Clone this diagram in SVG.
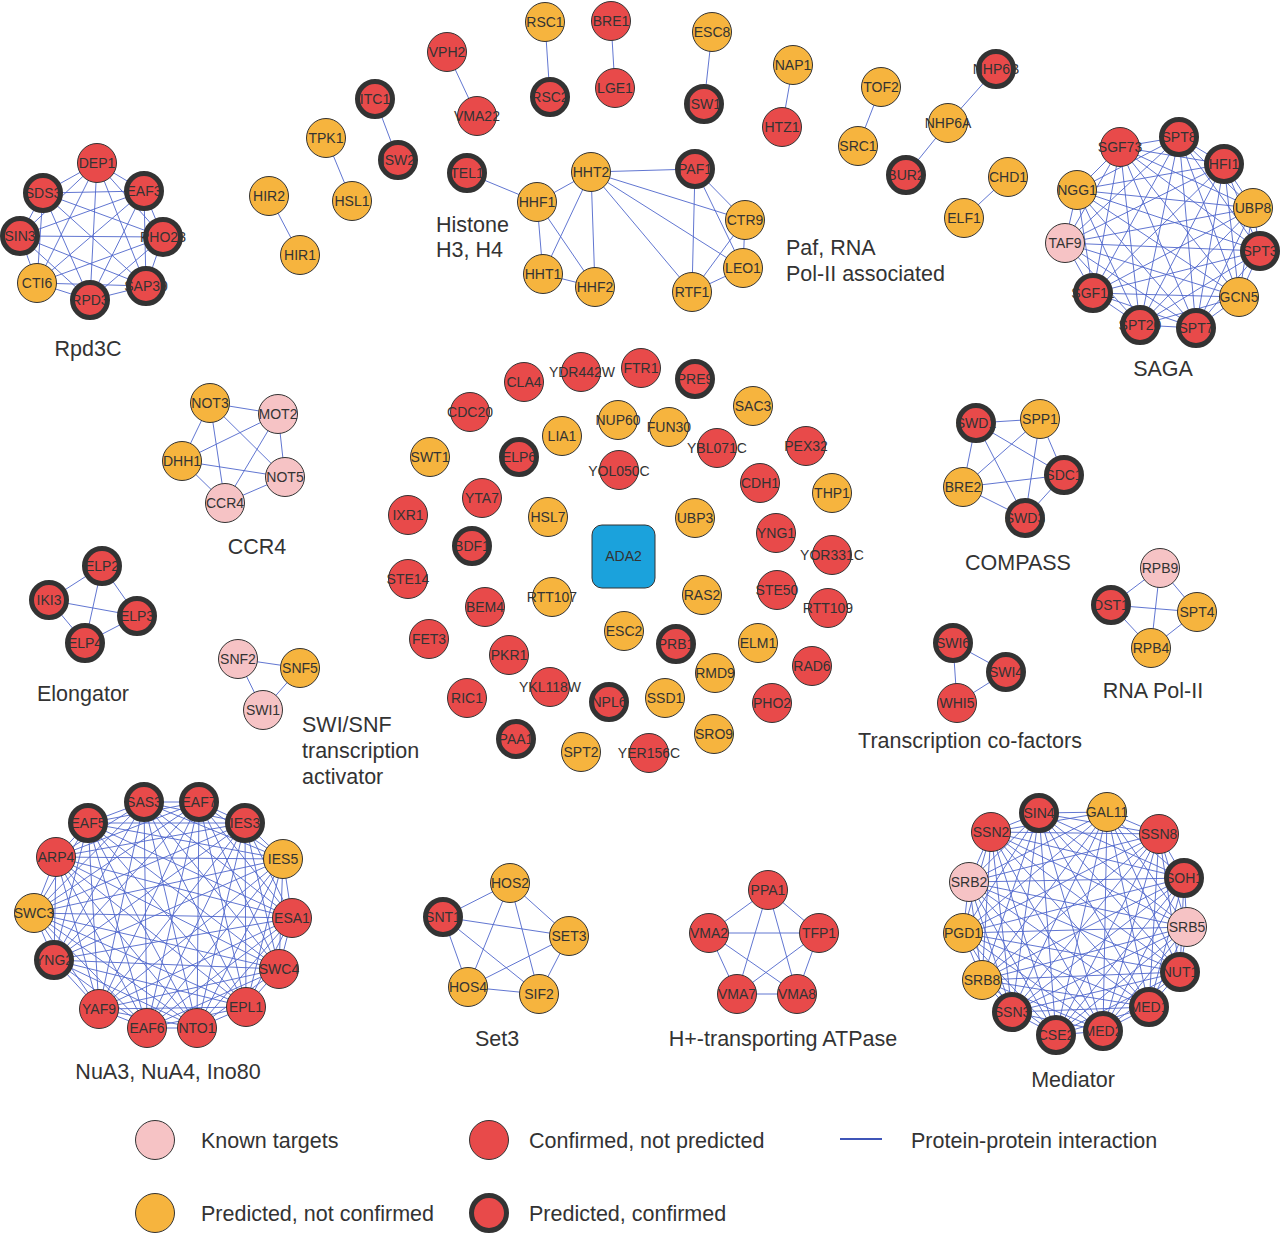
<svg xmlns="http://www.w3.org/2000/svg" width="1280" height="1236" viewBox="0 0 1280 1236">
<style>
.bg{fill:#fff}
.e{fill:none;stroke:#4f66cc;stroke-width:0.9;stroke-linejoin:round}
.n circle{stroke:#333;stroke-width:1}
.r circle{fill:#e84a4a}
.o circle{fill:#f6b43e}
.p circle{fill:#f6c3c5}
.t circle{fill:#e84a4a;stroke-width:5}
.n text{font-family:"Liberation Sans",Arial,sans-serif;font-size:14px;fill:#333;text-anchor:middle}
.lb{font-family:"Liberation Sans",Arial,sans-serif;font-size:21.5px;fill:#333}
.c{text-anchor:middle}
</style>
<rect class="bg" x="0" y="0" width="1280" height="1236"/>
<g id="connectors">
<!-- Rpd3C K8 -->
<polygon class="e" points="97,163 144,191 163,237 146,286 90,300 37,283 20,236 43,193"/>
<polygon class="e" points="97,163 146,286 20,236 144,191 90,300 43,193 163,237 37,283"/>
<polygon class="e" points="97,163 163,237 90,300 20,236"/>
<polygon class="e" points="144,191 146,286 37,283 43,193"/>
<path class="e" d="M97,163L90,300M144,191L37,283M163,237L20,236M146,286L43,193"/>
<!-- pairs -->
<path class="e" d="M545,22L550,97M447,52L477,116M375,99L398,160M326,138L352,201M269,196L300,255M611,21L615,88M712,32L704,104M793,65L782,127M881,87L858,146M996,69L948,123M948,123L906,175M1008,177L964,218M467,173L537,202"/>
<!-- Histone K4 -->
<polygon class="e" points="537,202 591,172 595,287 543,274"/>
<path class="e" d="M537,202L595,287M591,172L543,274"/>
<!-- Paf K5 -->
<polygon class="e" points="591,172 695,169 745,220 743,268 692,292"/>
<polygon class="e" points="591,172 745,220 692,292 695,169 743,268"/>
<!-- SAGA K11 -->
<polygon class="e" points="1179,137 1224,164 1253,208 1260,251 1239,297 1196,328 1140,325 1093,293 1065,243 1077,190 1120,147"/>
<polygon class="e" points="1179,137 1253,208 1239,297 1140,325 1065,243 1120,147 1224,164 1260,251 1196,328 1093,293 1077,190"/>
<polygon class="e" points="1179,137 1260,251 1140,325 1077,190 1224,164 1239,297 1093,293 1120,147 1253,208 1196,328 1065,243"/>
<polygon class="e" points="1179,137 1239,297 1065,243 1224,164 1196,328 1077,190 1253,208 1140,325 1120,147 1260,251 1093,293"/>
<polygon class="e" points="1179,137 1196,328 1120,147 1239,297 1077,190 1260,251 1065,243 1253,208 1093,293 1224,164 1140,325"/>
<!-- CCR4 K5 -->
<polygon class="e" points="210,403 278,414 285,477 225,503 182,461"/>
<polygon class="e" points="210,403 285,477 182,461 278,414 225,503"/>
<!-- Elongator K4 -->
<polygon class="e" points="102,566 137,616 85,643 49,600"/>
<path class="e" d="M102,566L85,643M137,616L49,600"/>
<!-- SWI/SNF -->
<polygon class="e" points="238,659 300,668 263,710"/>
<!-- COMPASS K5 -->
<polygon class="e" points="976,423 1040,419 1064,475 1025,518 963,487"/>
<polygon class="e" points="976,423 1064,475 963,487 1040,419 1025,518"/>
<!-- RNA Pol-II K4 -->
<polygon class="e" points="1160,568 1197,612 1151,648 1111,605"/>
<path class="e" d="M1160,568L1151,648M1197,612L1111,605"/>
<!-- Transcription co-factors -->
<polygon class="e" points="953,643 1006,672 957,703"/>
<!-- Set3 K5 -->
<polygon class="e" points="510,883 569,936 539,994 468,987 443,917"/>
<polygon class="e" points="510,883 539,994 443,917 569,936 468,987"/>
<!-- ATPase K5 -->
<polygon class="e" points="768,890 819,933 797,994 737,994 709,933"/>
<polygon class="e" points="768,890 797,994 709,933 819,933 737,994"/>
<!-- NuA K14 -->
<polygon class="e" points="144,802 199,802 245,823 283,859 292,918 279,969 246,1007 197,1028 147,1028 99,1009 54,960 34,913 56,857 88,823"/>
<polygon class="e" points="144,802 283,859 246,1007 99,1009 56,857 199,802 292,918 197,1028 54,960 88,823 245,823 279,969 147,1028 34,913"/>
<polygon class="e" points="144,802 279,969 54,960 199,802 246,1007 34,913 245,823 197,1028 56,857 283,859 147,1028 88,823 292,918 99,1009"/>
<polygon class="e" points="144,802 245,823 292,918 246,1007 147,1028 54,960 56,857"/>
<polygon class="e" points="199,802 283,859 279,969 197,1028 99,1009 34,913 88,823"/>
<polygon class="e" points="144,802 292,918 147,1028 56,857 245,823 246,1007 54,960"/>
<polygon class="e" points="199,802 279,969 99,1009 88,823 283,859 197,1028 34,913"/>
<polygon class="e" points="144,802 246,1007 56,857 292,918 54,960 245,823 147,1028"/>
<polygon class="e" points="199,802 197,1028 88,823 279,969 34,913 283,859 99,1009"/>
<path class="e" d="M144,802L197,1028M199,802L147,1028M245,823L99,1009M283,859L54,960M292,918L34,913M279,969L56,857M246,1007L88,823"/>
<!-- Mediator K14 -->
<polygon class="e" points="1039,813 1107,812 1159,834 1184,878 1187,927 1180,972 1149,1007 1103,1031 1056,1035 1012,1012 982,980 963,933 969,882 991,832"/>
<polygon class="e" points="1039,813 1184,878 1149,1007 1012,1012 969,882 1107,812 1187,927 1103,1031 982,980 991,832 1159,834 1180,972 1056,1035 963,933"/>
<polygon class="e" points="1039,813 1180,972 982,980 1107,812 1149,1007 963,933 1159,834 1103,1031 969,882 1184,878 1056,1035 991,832 1187,927 1012,1012"/>
<polygon class="e" points="1039,813 1159,834 1187,927 1149,1007 1056,1035 982,980 969,882"/>
<polygon class="e" points="1107,812 1184,878 1180,972 1103,1031 1012,1012 963,933 991,832"/>
<polygon class="e" points="1039,813 1187,927 1056,1035 969,882 1159,834 1149,1007 982,980"/>
<polygon class="e" points="1107,812 1180,972 1012,1012 991,832 1184,878 1103,1031 963,933"/>
<polygon class="e" points="1039,813 1149,1007 969,882 1187,927 982,980 1159,834 1056,1035"/>
<polygon class="e" points="1107,812 1103,1031 991,832 1180,972 963,933 1184,878 1012,1012"/>
<path class="e" d="M1039,813L1103,1031M1107,812L1056,1035M1159,834L1012,1012M1184,878L982,980M1187,927L963,933M1180,972L969,882M1149,1007L991,832"/>
</g>

<g id="rpd3c">
<g id="n-DEP1" class="n r"><circle cx="97" cy="163" r="19.5"/><text x="97" y="168">DEP1</text></g>
<g id="n-EAF3" class="n t"><circle cx="144" cy="191" r="17.5"/><text x="144" y="196">EAF3</text></g>
<g id="n-PHO23" class="n t"><circle cx="163" cy="237" r="17.5"/><text x="163" y="242">PHO23</text></g>
<g id="n-SAP30" class="n t"><circle cx="146" cy="286" r="17.5"/><text x="146" y="291">SAP30</text></g>
<g id="n-RPD3" class="n t"><circle cx="90" cy="300" r="17.5"/><text x="90" y="305">RPD3</text></g>
<g id="n-CTI6" class="n o"><circle cx="37" cy="283" r="19.5"/><text x="37" y="288">CTI6</text></g>
<g id="n-SIN3" class="n t"><circle cx="20" cy="236" r="17.5"/><text x="20" y="241">SIN3</text></g>
<g id="n-SDS3" class="n t"><circle cx="43" cy="193" r="17.5"/><text x="43" y="198">SDS3</text></g>
</g>

<g id="top">
<g id="n-HIR2" class="n o"><circle cx="269" cy="196" r="19.5"/><text x="269" y="201">HIR2</text></g>
<g id="n-HIR1" class="n o"><circle cx="300" cy="255" r="19.5"/><text x="300" y="260">HIR1</text></g>
<g id="n-TPK1" class="n o"><circle cx="326" cy="138" r="19.5"/><text x="326" y="143">TPK1</text></g>
<g id="n-HSL1" class="n o"><circle cx="352" cy="201" r="19.5"/><text x="352" y="206">HSL1</text></g>
<g id="n-ITC1" class="n t"><circle cx="375" cy="99" r="17.5"/><text x="375" y="104">ITC1</text></g>
<g id="n-ISW2" class="n t"><circle cx="398" cy="160" r="17.5"/><text x="398" y="165">ISW2</text></g>
<g id="n-VPH2" class="n r"><circle cx="447" cy="52" r="19.5"/><text x="447" y="57">VPH2</text></g>
<g id="n-VMA22" class="n r"><circle cx="477" cy="116" r="19.5"/><text x="477" y="121">VMA22</text></g>
<g id="n-RSC1" class="n o"><circle cx="545" cy="22" r="19.5"/><text x="545" y="27">RSC1</text></g>
<g id="n-RSC2" class="n t"><circle cx="550" cy="97" r="17.5"/><text x="550" y="102">RSC2</text></g>
<g id="n-BRE1" class="n r"><circle cx="611" cy="21" r="19.5"/><text x="611" y="26">BRE1</text></g>
<g id="n-LGE1" class="n r"><circle cx="615" cy="88" r="19.5"/><text x="615" y="93">LGE1</text></g>
<g id="n-ESC8" class="n o"><circle cx="712" cy="32" r="19.5"/><text x="712" y="37">ESC8</text></g>
<g id="n-ISW1" class="n t"><circle cx="704" cy="104" r="17.5"/><text x="704" y="109">ISW1</text></g>
<g id="n-NAP1" class="n o"><circle cx="793" cy="65" r="19.5"/><text x="793" y="70">NAP1</text></g>
<g id="n-HTZ1" class="n r"><circle cx="782" cy="127" r="19.5"/><text x="782" y="132">HTZ1</text></g>
<g id="n-TOF2" class="n o"><circle cx="881" cy="87" r="19.5"/><text x="881" y="92">TOF2</text></g>
<g id="n-SRC1" class="n o"><circle cx="858" cy="146" r="19.5"/><text x="858" y="151">SRC1</text></g>
<g id="n-NHP6B" class="n t"><circle cx="996" cy="69" r="17.5"/><text x="996" y="74">NHP6B</text></g>
<g id="n-NHP6A" class="n o"><circle cx="948" cy="123" r="19.5"/><text x="948" y="128">NHP6A</text></g>
<g id="n-BUR2" class="n t"><circle cx="906" cy="175" r="17.5"/><text x="906" y="180">BUR2</text></g>
<g id="n-CHD1" class="n o"><circle cx="1008" cy="177" r="19.5"/><text x="1008" y="182">CHD1</text></g>
<g id="n-ELF1" class="n o"><circle cx="964" cy="218" r="19.5"/><text x="964" y="223">ELF1</text></g>
<g id="n-TEL1" class="n t"><circle cx="467" cy="173" r="17.5"/><text x="467" y="178">TEL1</text></g>
<g id="n-HHF1" class="n o"><circle cx="537" cy="202" r="19.5"/><text x="537" y="207">HHF1</text></g>
<g id="n-HHT2" class="n o"><circle cx="591" cy="172" r="19.5"/><text x="591" y="177">HHT2</text></g>
<g id="n-HHT1" class="n o"><circle cx="543" cy="274" r="19.5"/><text x="543" y="279">HHT1</text></g>
<g id="n-HHF2" class="n o"><circle cx="595" cy="287" r="19.5"/><text x="595" y="292">HHF2</text></g>
<g id="n-PAF1" class="n t"><circle cx="695" cy="169" r="17.5"/><text x="695" y="174">PAF1</text></g>
<g id="n-CTR9" class="n o"><circle cx="745" cy="220" r="19.5"/><text x="745" y="225">CTR9</text></g>
<g id="n-LEO1" class="n o"><circle cx="743" cy="268" r="19.5"/><text x="743" y="273">LEO1</text></g>
<g id="n-RTF1" class="n o"><circle cx="692" cy="292" r="19.5"/><text x="692" y="297">RTF1</text></g>
</g>

<g id="saga">
<g id="n-SPT8" class="n t"><circle cx="1179" cy="137" r="17.5"/><text x="1179" y="142">SPT8</text></g>
<g id="n-HFI1" class="n t"><circle cx="1224" cy="164" r="17.5"/><text x="1224" y="169">HFI1</text></g>
<g id="n-UBP8" class="n o"><circle cx="1253" cy="208" r="19.5"/><text x="1253" y="213">UBP8</text></g>
<g id="n-SPT3" class="n t"><circle cx="1260" cy="251" r="17.5"/><text x="1260" y="256">SPT3</text></g>
<g id="n-GCN5" class="n o"><circle cx="1239" cy="297" r="19.5"/><text x="1239" y="302">GCN5</text></g>
<g id="n-SPT7" class="n t"><circle cx="1196" cy="328" r="17.5"/><text x="1196" y="333">SPT7</text></g>
<g id="n-SPT20" class="n t"><circle cx="1140" cy="325" r="17.5"/><text x="1140" y="330">SPT20</text></g>
<g id="n-SGF11" class="n t"><circle cx="1093" cy="293" r="17.5"/><text x="1093" y="298">SGF11</text></g>
<g id="n-TAF9" class="n p"><circle cx="1065" cy="243" r="19.5"/><text x="1065" y="248">TAF9</text></g>
<g id="n-NGG1" class="n o"><circle cx="1077" cy="190" r="19.5"/><text x="1077" y="195">NGG1</text></g>
<g id="n-SGF73" class="n r"><circle cx="1120" cy="147" r="19.5"/><text x="1120" y="152">SGF73</text></g>
</g>

<g id="ccr4">
<g id="n-NOT3" class="n o"><circle cx="210" cy="403" r="19.5"/><text x="210" y="408">NOT3</text></g>
<g id="n-MOT2" class="n p"><circle cx="278" cy="414" r="19.5"/><text x="278" y="419">MOT2</text></g>
<g id="n-DHH1" class="n o"><circle cx="182" cy="461" r="19.5"/><text x="182" y="466">DHH1</text></g>
<g id="n-NOT5" class="n p"><circle cx="285" cy="477" r="19.5"/><text x="285" y="482">NOT5</text></g>
<g id="n-CCR4" class="n p"><circle cx="225" cy="503" r="19.5"/><text x="225" y="508">CCR4</text></g>
</g>

<g id="elongator">
<g id="n-ELP2" class="n t"><circle cx="102" cy="566" r="17.5"/><text x="102" y="571">ELP2</text></g>
<g id="n-IKI3" class="n t"><circle cx="49" cy="600" r="17.5"/><text x="49" y="605">IKI3</text></g>
<g id="n-ELP3" class="n t"><circle cx="137" cy="616" r="17.5"/><text x="137" y="621">ELP3</text></g>
<g id="n-ELP4" class="n t"><circle cx="85" cy="643" r="17.5"/><text x="85" y="648">ELP4</text></g>
</g>

<g id="swisnf">
<g id="n-SNF2" class="n p"><circle cx="238" cy="659" r="19.5"/><text x="238" y="664">SNF2</text></g>
<g id="n-SNF5" class="n o"><circle cx="300" cy="668" r="19.5"/><text x="300" y="673">SNF5</text></g>
<g id="n-SWI1" class="n p"><circle cx="263" cy="710" r="19.5"/><text x="263" y="715">SWI1</text></g>
</g>

<g id="center">
<g id="n-ADA2"><rect x="592" y="525" width="63" height="63" rx="10" fill="#1ba2dc" stroke="#333" stroke-width="1"/><text x="623.5" y="561" font-family="Liberation Sans,Arial,sans-serif" font-size="14" fill="#333" text-anchor="middle">ADA2</text></g>
<g id="n-CLA4" class="n r"><circle cx="524" cy="382" r="19.5"/><text x="524" y="387">CLA4</text></g>
<g id="n-YDR442W" class="n r"><circle cx="581" cy="372" r="19.5"/><text x="582" y="377">YDR442W</text></g>
<g id="n-FTR1" class="n r"><circle cx="641" cy="368" r="19.5"/><text x="641" y="373">FTR1</text></g>
<g id="n-PRE9" class="n t"><circle cx="695" cy="379" r="17.5"/><text x="695" y="384">PRE9</text></g>
<g id="n-SAC3" class="n o"><circle cx="753" cy="406" r="19.5"/><text x="753" y="411">SAC3</text></g>
<g id="n-CDC20" class="n r"><circle cx="470" cy="412" r="19.5"/><text x="470" y="417">CDC20</text></g>
<g id="n-NUP60" class="n o"><circle cx="618" cy="420" r="19.5"/><text x="618" y="425">NUP60</text></g>
<g id="n-FUN30" class="n o"><circle cx="669" cy="427" r="19.5"/><text x="669" y="432">FUN30</text></g>
<g id="n-LIA1" class="n o"><circle cx="562" cy="436" r="19.5"/><text x="562" y="441">LIA1</text></g>
<g id="n-SWT1" class="n o"><circle cx="430" cy="457" r="19.5"/><text x="430" y="462">SWT1</text></g>
<g id="n-ELP6" class="n t"><circle cx="519" cy="457" r="17.5"/><text x="519" y="462">ELP6</text></g>
<g id="n-YBL071C" class="n r"><circle cx="717" cy="448" r="19.5"/><text x="717" y="453">YBL071C</text></g>
<g id="n-PEX32" class="n r"><circle cx="806" cy="446" r="19.5"/><text x="806" y="451">PEX32</text></g>
<g id="n-YOL050C" class="n r"><circle cx="619" cy="470" r="19.5"/><text x="619" y="476">YOL050C</text></g>
<g id="n-CDH1" class="n r"><circle cx="760" cy="483" r="19.5"/><text x="760" y="488">CDH1</text></g>
<g id="n-THP1" class="n o"><circle cx="832" cy="493" r="19.5"/><text x="832" y="498">THP1</text></g>
<g id="n-YTA7" class="n r"><circle cx="482" cy="498" r="19.5"/><text x="482" y="503">YTA7</text></g>
<g id="n-IXR1" class="n r"><circle cx="408" cy="515" r="19.5"/><text x="408" y="520">IXR1</text></g>
<g id="n-HSL7" class="n o"><circle cx="548" cy="517" r="19.5"/><text x="548" y="522">HSL7</text></g>
<g id="n-UBP3" class="n o"><circle cx="695" cy="518" r="19.5"/><text x="695" y="523">UBP3</text></g>
<g id="n-YNG1" class="n r"><circle cx="776" cy="533" r="19.5"/><text x="776" y="538">YNG1</text></g>
<g id="n-BDF1" class="n t"><circle cx="472" cy="546" r="17.5"/><text x="472" y="551">BDF1</text></g>
<g id="n-YOR331C" class="n r"><circle cx="832" cy="555" r="19.5"/><text x="832" y="560">YOR331C</text></g>
<g id="n-STE14" class="n r"><circle cx="408" cy="579" r="19.5"/><text x="408" y="584">STE14</text></g>
<g id="n-STE50" class="n r"><circle cx="777" cy="590" r="19.5"/><text x="777" y="595">STE50</text></g>
<g id="n-RAS2" class="n o"><circle cx="702" cy="595" r="19.5"/><text x="702" y="600">RAS2</text></g>
<g id="n-RTT107" class="n o"><circle cx="552" cy="597" r="19.5"/><text x="552" y="602">RTT107</text></g>
<g id="n-BEM4" class="n r"><circle cx="485" cy="607" r="19.5"/><text x="485" y="612">BEM4</text></g>
<g id="n-RTT109" class="n r"><circle cx="828" cy="608" r="19.5"/><text x="828" y="613">RTT109</text></g>
<g id="n-FET3" class="n r"><circle cx="429" cy="639" r="19.5"/><text x="429" y="644">FET3</text></g>
<g id="n-ESC2" class="n o"><circle cx="624" cy="631" r="19.5"/><text x="624" y="636">ESC2</text></g>
<g id="n-PRB1" class="n t"><circle cx="676" cy="644" r="17.5"/><text x="676" y="649">PRB1</text></g>
<g id="n-ELM1" class="n o"><circle cx="758" cy="643" r="19.5"/><text x="758" y="648">ELM1</text></g>
<g id="n-PKR1" class="n r"><circle cx="509" cy="655" r="19.5"/><text x="509" y="660">PKR1</text></g>
<g id="n-RAD6" class="n r"><circle cx="812" cy="666" r="19.5"/><text x="812" y="671">RAD6</text></g>
<g id="n-RMD9" class="n o"><circle cx="715" cy="673" r="19.5"/><text x="715" y="678">RMD9</text></g>
<g id="n-YKL118W" class="n r"><circle cx="550" cy="687" r="19.5"/><text x="550" y="692">YKL118W</text></g>
<g id="n-NPL6" class="n t"><circle cx="609" cy="702" r="17.5"/><text x="609" y="707">NPL6</text></g>
<g id="n-SSD1" class="n o"><circle cx="665" cy="698" r="19.5"/><text x="665" y="703">SSD1</text></g>
<g id="n-RIC1" class="n r"><circle cx="467" cy="698" r="19.5"/><text x="467" y="703">RIC1</text></g>
<g id="n-PHO2" class="n r"><circle cx="772" cy="703" r="19.5"/><text x="772" y="708">PHO2</text></g>
<g id="n-PAA1" class="n t"><circle cx="516" cy="739" r="17.5"/><text x="516" y="744">PAA1</text></g>
<g id="n-SRO9" class="n o"><circle cx="714" cy="734" r="19.5"/><text x="714" y="739">SRO9</text></g>
<g id="n-SPT2" class="n o"><circle cx="581" cy="752" r="19.5"/><text x="581" y="757">SPT2</text></g>
<g id="n-YER156C" class="n r"><circle cx="649" cy="753" r="19.5"/><text x="649" y="758">YER156C</text></g>
</g>

<g id="compass">
<g id="n-SWD1" class="n t"><circle cx="976" cy="423" r="17.5"/><text x="976" y="428">SWD1</text></g>
<g id="n-SPP1" class="n o"><circle cx="1040" cy="419" r="19.5"/><text x="1040" y="424">SPP1</text></g>
<g id="n-SDC1" class="n t"><circle cx="1064" cy="475" r="17.5"/><text x="1064" y="480">SDC1</text></g>
<g id="n-BRE2" class="n o"><circle cx="963" cy="487" r="19.5"/><text x="963" y="492">BRE2</text></g>
<g id="n-SWD3" class="n t"><circle cx="1025" cy="518" r="17.5"/><text x="1025" y="523">SWD3</text></g>
</g>

<g id="rnapol">
<g id="n-RPB9" class="n p"><circle cx="1160" cy="568" r="19.5"/><text x="1160" y="573">RPB9</text></g>
<g id="n-DST1" class="n t"><circle cx="1111" cy="605" r="17.5"/><text x="1111" y="610">DST1</text></g>
<g id="n-SPT4" class="n o"><circle cx="1197" cy="612" r="19.5"/><text x="1197" y="617">SPT4</text></g>
<g id="n-RPB4" class="n o"><circle cx="1151" cy="648" r="19.5"/><text x="1151" y="653">RPB4</text></g>
</g>

<g id="tcf">
<g id="n-SWI6" class="n t"><circle cx="953" cy="643" r="17.5"/><text x="953" y="648">SWI6</text></g>
<g id="n-SWI4" class="n t"><circle cx="1006" cy="672" r="17.5"/><text x="1006" y="677">SWI4</text></g>
<g id="n-WHI5" class="n r"><circle cx="957" cy="703" r="19.5"/><text x="957" y="708">WHI5</text></g>
</g>

<g id="nua">
<g id="n-SAS3" class="n t"><circle cx="144" cy="802" r="17.5"/><text x="144" y="807">SAS3</text></g>
<g id="n-EAF7" class="n t"><circle cx="199" cy="802" r="17.5"/><text x="199" y="807">EAF7</text></g>
<g id="n-IES3" class="n t"><circle cx="245" cy="823" r="17.5"/><text x="245" y="828">IES3</text></g>
<g id="n-IES5" class="n o"><circle cx="283" cy="859" r="19.5"/><text x="283" y="864">IES5</text></g>
<g id="n-ESA1" class="n r"><circle cx="292" cy="918" r="19.5"/><text x="292" y="923">ESA1</text></g>
<g id="n-SWC4" class="n r"><circle cx="279" cy="969" r="19.5"/><text x="279" y="974">SWC4</text></g>
<g id="n-EPL1" class="n r"><circle cx="246" cy="1007" r="19.5"/><text x="246" y="1012">EPL1</text></g>
<g id="n-NTO1" class="n r"><circle cx="197" cy="1028" r="19.5"/><text x="197" y="1033">NTO1</text></g>
<g id="n-EAF6" class="n r"><circle cx="147" cy="1028" r="19.5"/><text x="147" y="1033">EAF6</text></g>
<g id="n-YAF9" class="n r"><circle cx="99" cy="1009" r="19.5"/><text x="99" y="1014">YAF9</text></g>
<g id="n-YNG2" class="n t"><circle cx="54" cy="960" r="17.5"/><text x="54" y="965">YNG2</text></g>
<g id="n-SWC3" class="n o"><circle cx="34" cy="913" r="19.5"/><text x="34" y="918">SWC3</text></g>
<g id="n-ARP4" class="n r"><circle cx="56" cy="857" r="19.5"/><text x="56" y="862">ARP4</text></g>
<g id="n-EAF5" class="n t"><circle cx="88" cy="823" r="17.5"/><text x="88" y="828">EAF5</text></g>
</g>

<g id="set3">
<g id="n-HOS2" class="n o"><circle cx="510" cy="883" r="19.5"/><text x="510" y="888">HOS2</text></g>
<g id="n-SNT1" class="n t"><circle cx="443" cy="917" r="17.5"/><text x="443" y="922">SNT1</text></g>
<g id="n-SET3" class="n o"><circle cx="569" cy="936" r="19.5"/><text x="569" y="941">SET3</text></g>
<g id="n-HOS4" class="n o"><circle cx="468" cy="987" r="19.5"/><text x="468" y="992">HOS4</text></g>
<g id="n-SIF2" class="n o"><circle cx="539" cy="994" r="19.5"/><text x="539" y="999">SIF2</text></g>
</g>

<g id="atpase">
<g id="n-PPA1" class="n r"><circle cx="768" cy="890" r="19.5"/><text x="768" y="895">PPA1</text></g>
<g id="n-VMA2" class="n r"><circle cx="709" cy="933" r="19.5"/><text x="709" y="938">VMA2</text></g>
<g id="n-TFP1" class="n r"><circle cx="819" cy="933" r="19.5"/><text x="819" y="938">TFP1</text></g>
<g id="n-VMA7" class="n r"><circle cx="737" cy="994" r="19.5"/><text x="737" y="999">VMA7</text></g>
<g id="n-VMA8" class="n r"><circle cx="797" cy="994" r="19.5"/><text x="797" y="999">VMA8</text></g>
</g>

<g id="mediator">
<g id="n-SIN4" class="n t"><circle cx="1039" cy="813" r="17.5"/><text x="1039" y="818">SIN4</text></g>
<g id="n-GAL11" class="n o"><circle cx="1107" cy="812" r="19.5"/><text x="1107" y="817">GAL11</text></g>
<g id="n-SSN8" class="n r"><circle cx="1159" cy="834" r="19.5"/><text x="1159" y="839">SSN8</text></g>
<g id="n-SOH1" class="n t"><circle cx="1184" cy="878" r="17.5"/><text x="1184" y="883">SOH1</text></g>
<g id="n-SRB5" class="n p"><circle cx="1187" cy="927" r="19.5"/><text x="1187" y="932">SRB5</text></g>
<g id="n-NUT1" class="n t"><circle cx="1180" cy="972" r="17.5"/><text x="1180" y="977">NUT1</text></g>
<g id="n-MED1" class="n t"><circle cx="1149" cy="1007" r="17.5"/><text x="1149" y="1012">MED1</text></g>
<g id="n-MED2" class="n t"><circle cx="1103" cy="1031" r="17.5"/><text x="1103" y="1036">MED2</text></g>
<g id="n-CSE2" class="n t"><circle cx="1056" cy="1035" r="17.5"/><text x="1056" y="1040">CSE2</text></g>
<g id="n-SSN3" class="n t"><circle cx="1012" cy="1012" r="17.5"/><text x="1012" y="1017">SSN3</text></g>
<g id="n-SRB8" class="n o"><circle cx="982" cy="980" r="19.5"/><text x="982" y="985">SRB8</text></g>
<g id="n-PGD1" class="n o"><circle cx="963" cy="933" r="19.5"/><text x="963" y="938">PGD1</text></g>
<g id="n-SRB2" class="n p"><circle cx="969" cy="882" r="19.5"/><text x="969" y="887">SRB2</text></g>
<g id="n-SSN2" class="n r"><circle cx="991" cy="832" r="19.5"/><text x="991" y="837">SSN2</text></g>
</g>

<g id="labels">
<text class="lb c" x="88" y="356">Rpd3C</text>
<text class="lb" x="436" y="232">Histone</text>
<text class="lb" x="436" y="257">H3, H4</text>
<text class="lb" x="786" y="255">Paf, RNA</text>
<text class="lb" x="786" y="281">Pol-II associated</text>
<text class="lb c" x="1163" y="376">SAGA</text>
<text class="lb c" x="257" y="554">CCR4</text>
<text class="lb c" x="83" y="701">Elongator</text>
<text class="lb" x="302" y="732">SWI/SNF</text>
<text class="lb" x="302" y="758">transcription</text>
<text class="lb" x="302" y="784">activator</text>
<text class="lb c" x="1018" y="570">COMPASS</text>
<text class="lb c" x="1153" y="698">RNA Pol-II</text>
<text class="lb c" x="970" y="748">Transcription co-factors</text>
<text class="lb c" x="168" y="1079">NuA3, NuA4, Ino80</text>
<text class="lb c" x="497" y="1046">Set3</text>
<text class="lb c" x="783" y="1046">H+-transporting ATPase</text>
<text class="lb c" x="1073" y="1087">Mediator</text>
</g>

<g id="legend">
<g class="n p"><circle cx="155" cy="1140" r="19.5"/></g>
<text class="lb" x="201" y="1148">Known targets</text>
<g class="n r"><circle cx="489" cy="1140" r="19.5"/></g>
<text class="lb" x="529" y="1148">Confirmed, not predicted</text>
<line x1="840" y1="1139" x2="882" y2="1139" stroke="#3f55b8" stroke-width="2"/>
<text class="lb" x="911" y="1148">Protein-protein interaction</text>
<g class="n o"><circle cx="155" cy="1213" r="19.5"/></g>
<text class="lb" x="201" y="1221">Predicted, not confirmed</text>
<g class="n t"><circle cx="489" cy="1213" r="17.5"/></g>
<text class="lb" x="529" y="1221">Predicted, confirmed</text>
</g>
</svg>
